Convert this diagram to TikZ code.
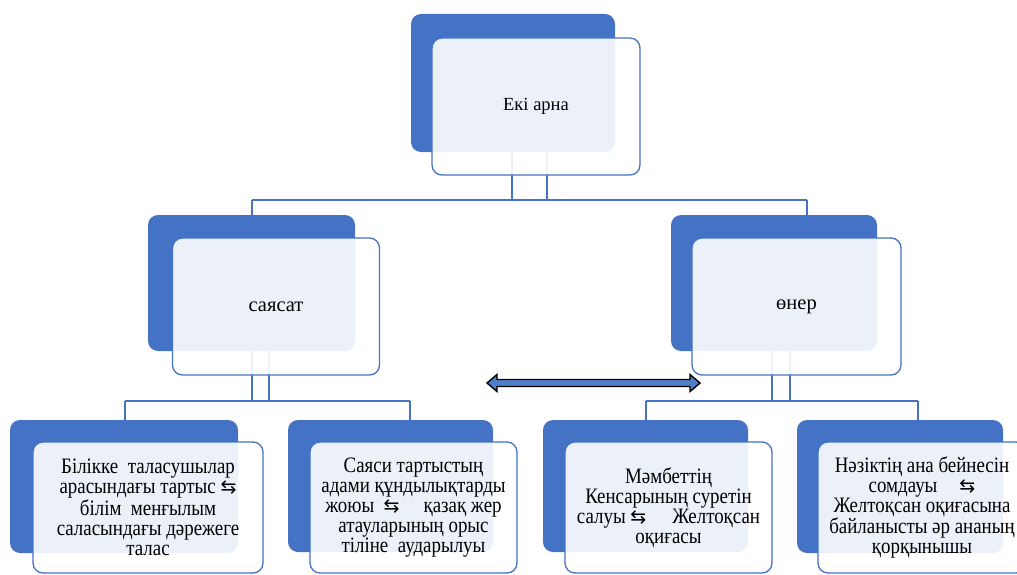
\documentclass[tikz,border=0pt]{standalone}
\usepackage{fontspec}
\usetikzlibrary{calc}
\setmainfont{Liberation Serif}
\newfontfamily\narrowserif[FakeStretch=0.86]{Liberation Serif}
\newfontfamily\symf{DejaVu Sans}
\definecolor{accent}{HTML}{4472C4}
\definecolor{arrowfill}{HTML}{4F7FC8}
\newcommand{\swapsym}{{\symf\fontsize{19}{19}\selectfont\char"21C6}}
\begin{document}
\begin{tikzpicture}[x=1pt,y=-1pt,
  back/.style={rectangle, rounded corners=10pt, fill=accent, draw=none, inner sep=0pt},
  front/.style={rectangle, rounded corners=10pt, draw=accent, line width=1.3pt,
     fill=white, fill opacity=0.9, text opacity=1, draw opacity=1, inner sep=0pt, align=center},
  toptext/.style={font=\fontsize{18.5}{20}\selectfont},
  midtext/.style={font=\fontsize{20.5}{22}\selectfont},
  smalltext/.style={font=\narrowserif\fontsize{22}{20}\selectfont},
  link/.style={draw=accent, line width=1.5pt},
  bigarrow/.style={draw=black, line width=1.4pt, fill=arrowfill, line join=miter}]
\useasboundingbox (0,0) rectangle (1017,575);
\clip (0,0) rectangle (1017,575);

% connector coordinates
\coordinate (t1) at (512,152);
\coordinate (t2) at (547,152);
\coordinate (hL) at (252,200);
\coordinate (hR) at (807,200);
\coordinate (m1a) at (252,351);
\coordinate (m1b) at (269,351);
\coordinate (m2a) at (772,351);
\coordinate (m2b) at (790,351);

% connectors (behind boxes)
\draw[link] (t1) -- (t1 |- hL);
\draw[link] (t2) -- (t2 |- hL);
\draw[link] (hL) -- (hR);
\draw[link] (hL) -- (252,216);
\draw[link] (hR) -- (807,216);

\draw[link] (m1a) -- (252,401);
\draw[link] (m1b) -- (269,401);
\draw[link] (125,401) -- (410,401);
\draw[link] (125,401) -- (125,421);
\draw[link] (410,401) -- (410,421);

\draw[link] (m2a) -- (772,401);
\draw[link] (m2b) -- (790,401);
\draw[link] (646,401) -- (918,401);
\draw[link] (646,401) -- (646,421);
\draw[link] (918,401) -- (918,421);

% top
\node[back, minimum width=204pt, minimum height=138pt] (topB) at (513,83) {};
\node[front, toptext, minimum width=208pt, minimum height=137pt] (topF) at (536,106.5) {Екі арна};

% middle
\node[back, minimum width=207pt, minimum height=136pt] (m1B) at (251.5,283) {};
\node[front, midtext, minimum width=207pt, minimum height=137pt] (m1F) at (276,306.5) {саясат};
\node[back, minimum width=206pt, minimum height=136pt] (m2B) at (774,283) {};
\node[front, midtext, minimum width=209pt, minimum height=137pt] (m2F) at (796.5,306.5) {өнер};

% bottom
\node[back, minimum width=228pt, minimum height=133pt] (b1B) at (124,486.5) {};
\node[front, smalltext, minimum width=230pt, minimum height=131pt] (b1F) at (148,507.5)
  {Білікке\ \ таласушылар\\арасындағы тартыс \swapsym\\білім\ \ менғылым\\саласындағы дәрежеге\\талас};
\node[back, minimum width=205pt, minimum height=132pt] (b2B) at (390.5,486) {};
\node[front, smalltext, minimum width=207pt, minimum height=131pt] (b2F) at (413.5,507.5)
  {Саяси тартыстың\\адами құндылықтарды\\жоюы\ \ \swapsym\hspace{24pt}қазақ жер\\атауларының орыс\\тіліне\ \ аударылуы};
\node[back, minimum width=205pt, minimum height=132pt] (b3B) at (645.5,486) {};
\node[front, smalltext, minimum width=207pt, minimum height=131pt] (b3F) at (668.5,507.5)
  {Мәмбеттің\\Кенсарының суретін\\салуы \swapsym\hspace{26pt}Желтоқсан\\оқиғасы};
\node[back, minimum width=206pt, minimum height=133pt] (b4B) at (900,486.5) {};
\node[front, smalltext, minimum width=208pt, minimum height=131pt] (b4F) at (922,507.5)
  {Нәзіктің ана бейнесін\\сомдауы\hspace{22pt}\swapsym\\Желтоқсан оқиғасына\\байланысты әр ананың\\қорқынышы};

% double arrow
\coordinate (arrL) at (487,383);
\coordinate (arrR) at (700,383);
\draw[bigarrow] (arrL) -- ($(arrL)+(10,-8.5)$) -- ($(arrL)+(10,-3.5)$) -- ($(arrR)+(-10,-3.5)$)
  -- ($(arrR)+(-10,-8.5)$) -- (arrR) -- ($(arrR)+(-10,8.5)$) -- ($(arrR)+(-10,3.5)$)
  -- ($(arrL)+(10,3.5)$) -- ($(arrL)+(10,8.5)$) -- cycle;
\end{tikzpicture}
\end{document}
